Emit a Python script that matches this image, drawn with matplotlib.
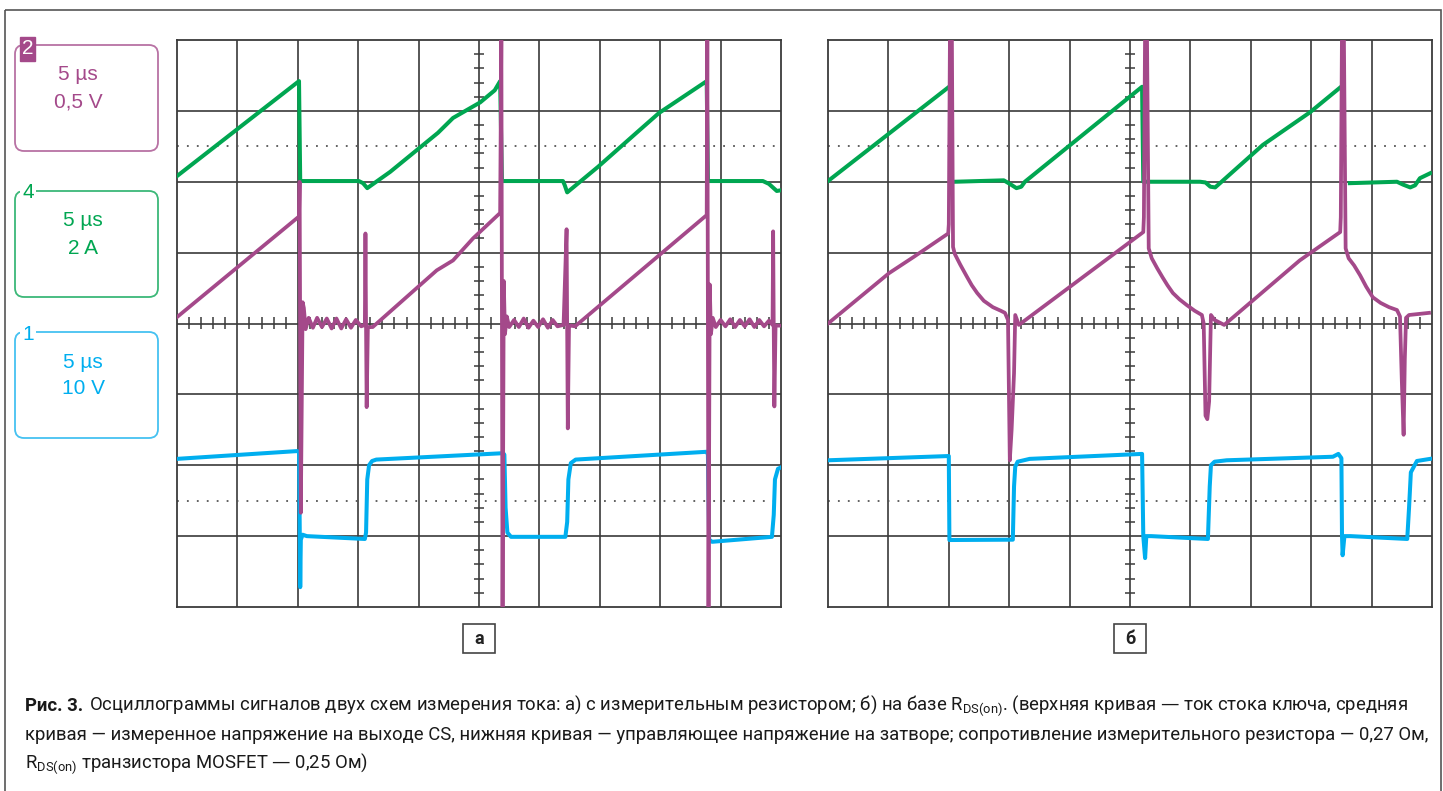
import numpy as np
import matplotlib.pyplot as plt
from matplotlib.patches import FancyBboxPatch, Rectangle

plt.rcParams['font.family'] = ['Roboto', 'DejaVu Sans']

PURPLE = "#a4498a"
GREEN = "#00a651"
BLUE = "#00aeef"
GRID = "#3a3a3a"

# осциллограммы в делениях экрана: (x 0..10 дел., y 0..8 дел.)
# а) с измерительным резистором
a_green = [(0, 6.08), (2.02, 7.42), (2.04, 6.01), (3.01, 6.01), (3.08, 5.98), (3.15, 5.91),
           (3.53, 6.14), (4.32, 6.69), (4.57, 6.90), (5.02, 7.12), (5.26, 7.29), (5.35, 7.42),
           (5.38, 6.01), (6.39, 6.01), (6.42, 5.95), (6.46, 5.85), (6.97, 6.21), (7.62, 6.70),
           (7.98, 6.97), (8.77, 7.42), (8.79, 6.01), (9.70, 6.01), (9.80, 5.97), (9.93, 5.87),
           (10.0, 5.88)]
a_blue = [(0, 2.09), (1.99, 2.20), (2.02, 2.19), (2.03, 1.3), (2.04, 0.28), (2.05, 0.95),
          (2.08, 1.02), (2.15, 1.0), (3.11, 0.96), (3.13, 1.05), (3.15, 1.8), (3.18, 2.0),
          (3.23, 2.06), (3.30, 2.08), (5.40, 2.17), (5.42, 2.15), (5.44, 1.4), (5.47, 1.05),
          (5.53, 0.99), (6.43, 0.99), (6.46, 1.2), (6.48, 1.8), (6.52, 2.03), (6.60, 2.08),
          (8.77, 2.19), (8.79, 2.15), (8.81, 0.95), (8.86, 0.92), (9.85, 0.99), (9.88, 1.3),
          (9.90, 1.8), (9.95, 1.95), (10.0, 1.97)]
a_purple = [(0, 4.09), (2.02, 5.51), (2.03, 6.0), (2.05, 1.33), (2.08, 4.30), (2.10, 4.22),
            (2.13, 3.92), (2.18, 4.08), (2.25, 3.94), (2.32, 4.08), (2.40, 3.95), (2.48, 4.07),
            (2.56, 3.93), (2.64, 4.07), (2.72, 3.93), (2.80, 4.06), (2.88, 3.94), (2.96, 4.05),
            (3.05, 3.96), (3.11, 3.98), (3.12, 5.27), (3.13, 3.95), (3.14, 2.82), (3.16, 3.95),
            (3.24, 3.95), (4.30, 4.75), (4.57, 4.89), (4.90, 5.20), (5.35, 5.56), (5.37, 8.10),
            (5.39, -0.1), (5.41, 4.60), (5.43, 3.85), (5.46, 4.10), (5.50, 3.95), (5.58, 4.05),
            (5.66, 3.95), (5.74, 4.07), (5.82, 3.94), (5.90, 4.04), (5.98, 3.95), (6.06, 4.06),
            (6.14, 3.94), (6.22, 4.05), (6.30, 3.96), (6.40, 3.98), (6.45, 5.33), (6.46, 3.90),
            (6.47, 2.52), (6.49, 3.95), (6.52, 3.97), (6.59, 3.96), (8.77, 5.53), (8.78, 8.10),
            (8.80, -0.1), (8.82, 4.55), (8.84, 3.85), (8.87, 4.08), (8.92, 3.95), (9.00, 4.05),
            (9.08, 3.96), (9.16, 4.06), (9.24, 3.95), (9.32, 4.05), (9.40, 3.96), (9.48, 4.06),
            (9.56, 3.95), (9.64, 4.05), (9.72, 3.96), (9.80, 4.04), (9.86, 3.98), (9.87, 5.30),
            (9.88, 3.90), (9.89, 2.83), (9.91, 3.97), (10.0, 3.97)]

# б) на базе RDS(on)
b_green = [(0, 6.01), (1.99, 7.33), (np.nan, np.nan), (2.10, 6.0), (2.91, 6.02), (3.01, 5.97),
           (3.12, 5.91), (3.20, 5.93), (3.26, 6.0), (5.20, 7.34), (5.22, 6.0), (6.16, 6.0),
           (6.25, 5.99), (6.33, 5.93), (6.41, 5.92), (6.49, 5.98), (7.20, 6.52), (7.98, 6.98),
           (8.48, 7.33), (np.nan, np.nan), (8.64, 5.98), (9.42, 6.0), (9.52, 5.96), (9.64, 5.92),
           (9.72, 5.95), (9.80, 6.05), (9.97, 6.12)]
b_blue = [(0, 2.07), (2.0, 2.13), (2.01, 0.945), (3.06, 0.95), (3.08, 1.7), (3.10, 1.98),
          (3.14, 2.05), (3.34, 2.09), (5.20, 2.16), (5.22, 1.0), (5.25, 0.69), (5.27, 1.0),
          (5.35, 1.0), (6.29, 0.96), (6.32, 1.7), (6.34, 2.0), (6.40, 2.05), (6.60, 2.07),
          (8.36, 2.12), (8.45, 2.16), (8.50, 2.1), (8.51, 1.0), (8.52, 0.73), (8.55, 1.0),
          (8.65, 1.0), (9.59, 0.96), (9.62, 1.4), (9.65, 1.9), (9.75, 2.06), (9.97, 2.09)]
b_purple = [(0, 4.0), (1.01, 4.71), (1.42, 4.94), (1.99, 5.27), (2.00, 5.4), (2.02, 8.2),
            (2.05, 8.2), (2.07, 5.08), (2.10, 4.98), (2.19, 4.83), (2.30, 4.66), (2.38, 4.54),
            (2.47, 4.43), (2.58, 4.32), (2.73, 4.23), (2.86, 4.18), (2.93, 4.15),
            (2.98, 4.05), (3.01, 2.07), (3.04, 2.5), (3.08, 3.3), (3.10, 4.12), (3.16, 3.98),
            (5.22, 5.29), (5.23, 5.5), (5.25, 8.2), (5.28, 8.2), (5.31, 5.06), (5.36, 4.92),
            (5.45, 4.78), (5.54, 4.65), (5.62, 4.54), (5.71, 4.43), (5.82, 4.34), (5.94, 4.26),
            (6.07, 4.18), (6.19, 4.12), (6.22, 4.0), (6.25, 2.7), (6.28, 2.65),
            (6.31, 2.9), (6.34, 4.12), (6.40, 4.05), (6.56, 3.98), (7.81, 4.89), (8.48, 5.29),
            (8.49, 5.5), (8.51, 8.2), (8.54, 8.2), (8.57, 5.06), (8.62, 4.92), (8.71, 4.82),
            (8.81, 4.68), (8.91, 4.52), (9.02, 4.37), (9.15, 4.29), (9.29, 4.23),
            (9.42, 4.19), (9.47, 4.10), (9.50, 3.2), (9.53, 2.43), (9.55, 3.5), (9.57, 4.08),
            (9.62, 4.12), (9.95, 4.15)]

channels = [("2", "5 µs", "0,5 V", PURPLE), ("4", "5 µs", "2 A", GREEN), ("1", "5 µs", "10 V", BLUE)]
panel_names = ["а", "б"]

caption_bold = "Рис. 3."
caption_1 = ("Осциллограммы сигналов двух схем измерения тока: а) с измерительным резистором; "
             "б) на базе $\\mathregular{R_{DS(on)}}$. (верхняя кривая — ток стока ключа, средняя")
caption_2 = ("кривая — измеренное напряжение на выходе CS, нижняя кривая — управляющее напряжение "
             "на затворе; сопротивление измерительного резистора — 0,27 Ом,")
caption_3 = "$\\mathregular{R_{DS(on)}}$ транзистора MOSFET — 0,25 Ом)"

W, H = 1443, 791
fig = plt.figure(figsize=(W / 100, H / 100), dpi=100)

# холст в пикселях для рамок и подписей
bg = fig.add_axes([0, 0, 1, 1])
bg.set_xlim(0, W)
bg.set_ylim(H, 0)
bg.axis("off")
bg.add_patch(Rectangle((5, 10), 1436, 820, fill=False, ec="#555555", lw=1.2))


def draw_scope(left, green, blue, purple):
    ax = fig.add_axes([left / W, (H - 607) / H, 604 / W, 567 / H])
    ax.set_xlim(0, 10)
    ax.set_ylim(0, 8)
    ax.set_xticks([])
    ax.set_yticks([])
    for s in ax.spines.values():
        s.set_color(GRID)
        s.set_linewidth(1.3)
    for x in range(1, 10):
        ax.axvline(x, color=GRID, lw=1.2, zorder=1)
    for y in range(1, 8):
        ax.axhline(y, color=GRID, lw=1.2, zorder=1)
    for y in (1.5, 6.5):
        ax.axhline(y, color="#555555", lw=1.3, ls=(0, (1, 4.5)), zorder=1)
    # мелкие деления на центральных осях
    mx = [v for v in np.arange(0.2, 10, 0.2) if abs(v - round(v)) > 0.05]
    my = [v for v in np.arange(0.2, 8, 0.2) if abs(v - round(v)) > 0.05]
    ax.vlines(mx, 3.92, 4.09, color=GRID, lw=1.1, zorder=1)
    ax.hlines(my, 4.92, 5.08, color=GRID, lw=1.1, zorder=1)

    g = np.array(green).T
    b = np.array(blue).T
    p = np.array(purple).T
    ax.plot(g[0], g[1], color=GREEN, lw=2.9, zorder=3, solid_joinstyle="round")
    ax.plot(b[0], b[1], color=BLUE, lw=2.9, zorder=4, solid_joinstyle="round")
    ax.plot(p[0], p[1], color=PURPLE, lw=2.7, zorder=5, solid_joinstyle="round")
    return ax


draw_scope(177, a_green, a_blue, a_purple)
draw_scope(828, b_green, b_blue, b_purple)

# блоки с настройками каналов
box_tops = [45, 191, 332]
light = {PURPLE: "#b872a4", GREEN: "#3cb878", BLUE: "#45c1f1"}
for (num, t1, t2, col), top in zip(channels, box_tops):
    bg.add_patch(FancyBboxPatch((15, top), 143, 106, boxstyle="round,pad=0,rounding_size=9",
                                fc="none", ec=light[col], lw=1.3))
    cx = 78 if num == "2" else 83
    bg.text(cx, top + 30, t1, color=col, fontsize=15, family="Liberation Sans",
            ha="center", va="center")
    bg.text(cx, top + 57, t2, color=col, fontsize=15, family="Liberation Sans",
            ha="center", va="center")
    if num == "2":
        bg.add_patch(Rectangle((20, 37), 15, 24, color=col))
        bg.text(27.5, 49, num, color="white", fontsize=15, family="Liberation Sans",
                ha="center", va="center")
    else:
        bg.text(28, top + 2, num, color=col, fontsize=15, family="Liberation Sans",
                ha="center", va="center",
                bbox=dict(boxstyle="square,pad=0.1", fc="white", ec="none"))

# метки а и б
for name, cx in zip(panel_names, [479, 1130]):
    bg.add_patch(Rectangle((cx - 16, 624), 32, 29, fill=False, ec="#444444", lw=1.2))
    bg.text(cx, 639, name, fontsize=13, fontweight="bold", color="#222222",
            ha="center", va="center")

# подпись к рисунку
r = fig.canvas.get_renderer()
probe = bg.text(25, 735, caption_2, fontsize=12)
w = probe.get_window_extent(r).width
probe.remove()
fs = 12 * 1395 / w

tb = bg.text(25, 706, caption_bold, fontsize=fs, fontweight="bold", color="#1a1a1a",
             va="center")
bw = tb.get_window_extent(r).width
bg.text(25 + bw + 6, 706, caption_1, fontsize=fs, color="#1a1a1a", va="center")
bg.text(25, 735, caption_2, fontsize=fs, color="#1a1a1a", va="center")
bg.text(25, 764, caption_3, fontsize=fs, color="#1a1a1a", va="center")

fig.savefig("out.png", dpi=100)
